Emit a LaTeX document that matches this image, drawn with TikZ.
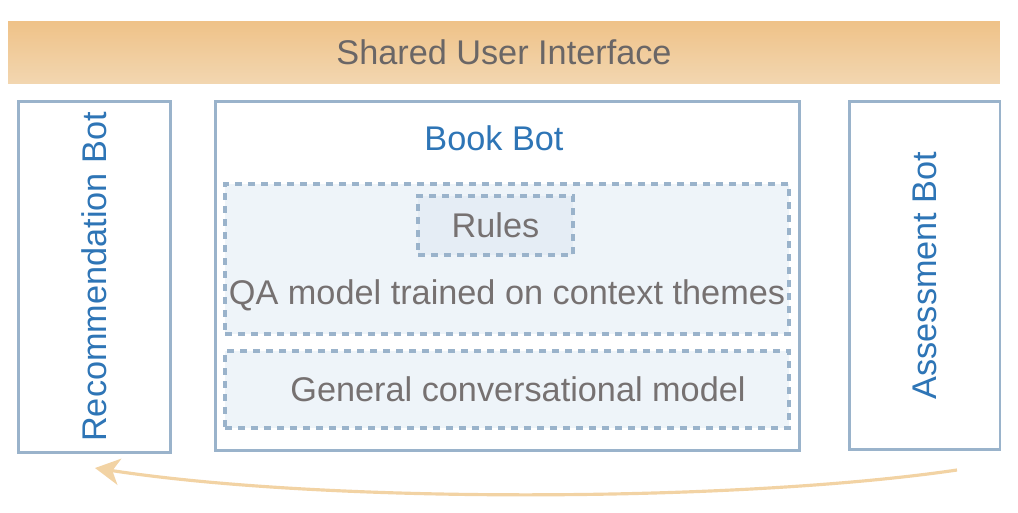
\documentclass[tikz,border=0pt]{standalone}
\usepackage{fontspec}
\setmainfont{Liberation Sans}
\usetikzlibrary{arrows.meta}

\definecolor{botblue}{HTML}{2E75B6}
\definecolor{boxline}{HTML}{9AB3CB}
\definecolor{boxfill}{HTML}{EEF4F9}
\definecolor{rulefill}{HTML}{E5EDF5}
\definecolor{txtgray}{HTML}{767171}
\definecolor{uitop}{HTML}{EFC288}
\definecolor{uibot}{HTML}{F2D6B0}
\definecolor{flow}{HTML}{F2D3A4}

\begin{document}
\begin{tikzpicture}[x=0.02cm, y=-0.02cm, font=\fontsize{19.5}{23}\selectfont,
                    bot/.style={draw=boxline, line width=1.7pt, fill=white, text=botblue},
                    part/.style={draw=boxline, line width=1.9pt, dash pattern=on 4pt off 3.4pt,
                                 fill=boxfill, text=txtgray},
                    >={Stealth[length=14pt,width=15pt,inset=4pt]}]

\useasboundingbox (0,0) rectangle (1018,512);

% shared interface on top
\node[top color=uitop, bottom color=uibot, minimum width=19.84cm, minimum height=1.24cm,
      text=txtgray!90!black] (ui) at (504,52) {Shared User Interface};

% the three bots
\node[bot, minimum width=3.06cm, minimum height=7.04cm] (rec) at (94.5,277) {};
\node[botblue, rotate=90] (recText) at (rec.center) {Recommendation Bot};
\node[bot, minimum width=11.7cm, minimum height=7cm] (book) at (507.5,276) {};
\node[text=botblue] (bookText) at (494,138) {Book Bot};
\node[bot, minimum width=3.02cm, minimum height=6.98cm] (assess) at (924.5,275.5) {};
\node[text=botblue, rotate=90] (assessText) at (assess.center) {Assessment Bot};

% inside the book bot
\node[part, minimum width=11.28cm, minimum height=3cm] (qa) at (507,259) {};
\node[part, fill=rulefill, minimum width=3.1cm, minimum height=1.18cm] (rules) at (495.5,225.5) {Rules};
\node[text=txtgray] (qaText) at (507,295) {QA model trained on context themes};
\node[part, minimum width=11.28cm, minimum height=1.54cm] (gen) at (507,389.5) {};
\node[text=txtgray] (genText) at (518,389) {General conversational model};

% hand-over from assessment back to recommendation
\coordinate (from) at (957,470);
\coordinate (to) at (95,468);
\draw[->, flow, line width=1.8pt] (from) .. controls (740,502) and (330,504) .. (to);
\end{tikzpicture}
\end{document}
